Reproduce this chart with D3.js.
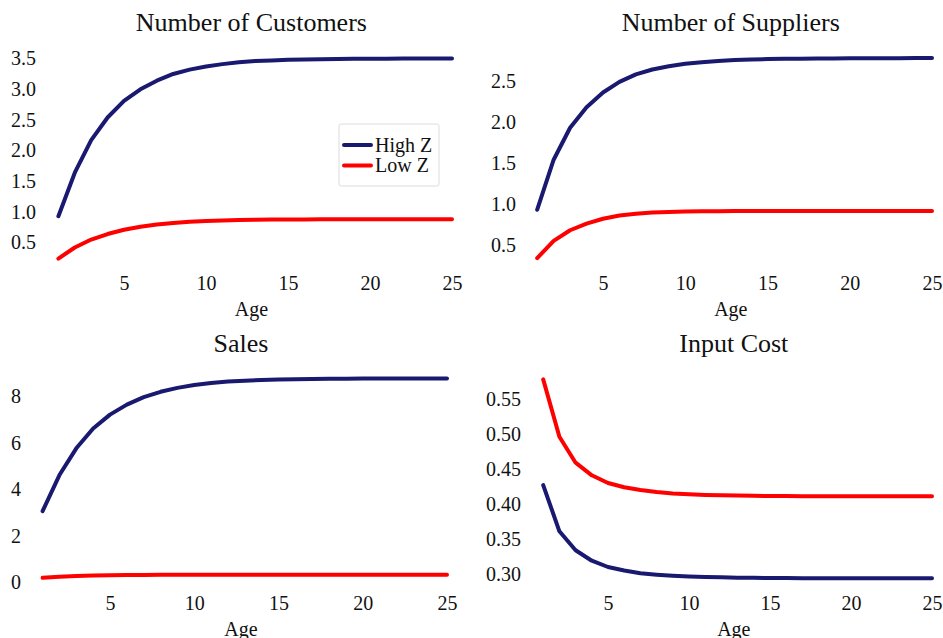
<!DOCTYPE html>
<html>
<head>
<meta charset="utf-8">
<script src="https://cdn.jsdelivr.net/npm/d3@7"></script>
<style>
  html, body { margin: 0; padding: 0; background: #fff; }
  svg { display: block; }
</style>
</head>
<body>
<svg id="chart" width="943" height="638"></svg>
<script>
// ---------------- DATA ----------------
const ages = [1,2,3,4,5,6,7,8,9,10,11,12,13,14,15,16,17,18,19,20,21,22,23,24,25];
const seriesNames = ["High Z", "Low Z"];
const titles = ["Number of Customers", "Number of Suppliers", "Sales", "Input Cost"];

const customersHigh = [0.92,1.63,2.16,2.53,2.80,2.99,3.13,3.24,3.31,3.36,3.40,3.43,3.45,3.46,3.47,3.475,3.48,3.484,3.486,3.488,3.489,3.49,3.49,3.49,3.49];
const customersLow  = [0.23,0.41,0.54,0.63,0.70,0.75,0.785,0.81,0.83,0.843,0.852,0.858,0.862,0.865,0.867,0.868,0.869,0.87,0.87,0.87,0.87,0.87,0.87,0.87,0.87];

const suppliersHigh = [0.93,1.54,1.93,2.18,2.36,2.49,2.58,2.64,2.68,2.71,2.73,2.745,2.755,2.762,2.767,2.77,2.772,2.774,2.775,2.776,2.777,2.778,2.778,2.779,2.78];
const suppliersLow  = [0.34,0.55,0.68,0.76,0.82,0.86,0.88,0.895,0.903,0.908,0.911,0.913,0.914,0.915,0.915,0.915,0.915,0.915,0.915,0.915,0.915,0.915,0.915,0.915,0.915];

const salesHigh = [3.05,4.6,5.75,6.6,7.2,7.63,7.95,8.18,8.35,8.47,8.56,8.62,8.66,8.69,8.71,8.725,8.735,8.74,8.745,8.748,8.75,8.75,8.75,8.75,8.75];
const salesLow  = [0.18,0.23,0.26,0.28,0.29,0.30,0.305,0.308,0.31,0.31,0.31,0.31,0.31,0.31,0.31,0.31,0.31,0.31,0.31,0.31,0.31,0.31,0.31,0.31,0.31];

const costHigh = [0.427,0.361,0.334,0.319,0.310,0.305,0.301,0.299,0.2975,0.2965,0.2958,0.2952,0.2948,0.2945,0.2943,0.2942,0.2941,0.294,0.294,0.294,0.294,0.294,0.294,0.294,0.294];
const costLow  = [0.578,0.496,0.459,0.441,0.430,0.424,0.420,0.417,0.415,0.414,0.413,0.4125,0.412,0.4117,0.4115,0.4113,0.4112,0.4111,0.411,0.411,0.411,0.411,0.411,0.411,0.411];

const xTicks = [5,10,15,20,25];
const customersTicks = [0.5,1.0,1.5,2.0,2.5,3.0,3.5];
const suppliersTicks = [0.5,1.0,1.5,2.0,2.5];
const salesTicks = [0,2,4,6,8];
const costTicks = [0.30,0.35,0.40,0.45,0.50,0.55];

// ---------------- LAYOUT ----------------
const colors = { high: "#191970", low: "#ff0000" };
const FONT = "'Liberation Serif', 'DejaVu Serif', serif";

const panels = [
  { title: titles[0], high: customersHigh, low: customersLow, yTicks: customersTicks, fmt: d3.format(".1f"),
    x5: 124, x25: 452, yA: 242, yB: 58, yLabelX: 36, xLabelY: 283, ageY: 309, titleY: 22, legend: true },
  { title: titles[1], high: suppliersHigh, low: suppliersLow, yTicks: suppliersTicks, fmt: d3.format(".1f"),
    x5: 603, x25: 932, yA: 245, yB: 81, yLabelX: 516, xLabelY: 283, ageY: 309, titleY: 22 },
  { title: titles[2], high: salesHigh, low: salesLow, yTicks: salesTicks, fmt: d3.format("d"),
    x5: 110, x25: 447, yA: 582, yB: 396, yLabelX: 21, xLabelY: 603, ageY: 629, titleY: 343 },
  { title: titles[3], high: costHigh, low: costLow, yTicks: costTicks, fmt: d3.format(".2f"),
    x5: 608, x25: 932, yA: 574, yB: 399, yLabelX: 521, xLabelY: 603, ageY: 629, titleY: 343 }
];

const svg = d3.select("#chart");

panels.forEach(p => {
  const x = d3.scaleLinear().domain([5, 25]).range([p.x5, p.x25]);
  const y = d3.scaleLinear().domain([p.yTicks[0], p.yTicks[p.yTicks.length - 1]]).range([p.yA, p.yB]);
  const g = svg.append("g");

  const line = d3.line().x((d, i) => x(ages[i])).y(d => y(d));
  [[p.high, colors.high], [p.low, colors.low]].forEach(([vals, c]) => {
    g.append("path")
      .datum(vals)
      .attr("d", line)
      .attr("fill", "none")
      .attr("stroke", c)
      .attr("stroke-width", 4)
      .attr("stroke-linecap", "round")
      .attr("stroke-linejoin", "round");
  });

  const xa = g.append("g")
    .attr("transform", `translate(0,${p.xLabelY})`)
    .call(d3.axisBottom(x).tickValues(xTicks).tickSize(0).tickPadding(0).tickFormat(d3.format("d")));
  xa.select(".domain").remove();
  xa.attr("font-family", FONT).attr("font-size", 20);
  xa.selectAll("text").attr("y", 0).attr("dy", "0.34em").attr("fill", "#111");

  const ya = g.append("g")
    .attr("transform", `translate(${p.yLabelX},0)`)
    .call(d3.axisLeft(y).tickValues(p.yTicks).tickSize(0).tickPadding(0).tickFormat(p.fmt));
  ya.select(".domain").remove();
  ya.attr("font-family", FONT).attr("font-size", 20);
  ya.selectAll("text").attr("x", 0).attr("dy", "0.34em").attr("fill", "#111");

  const centerX = x(13) - 3.8;

  g.append("text")
    .attr("x", centerX)
    .attr("y", p.ageY)
    .attr("dy", "0.34em")
    .attr("text-anchor", "middle")
    .attr("font-family", FONT)
    .attr("font-size", 20)
    .attr("fill", "#111")
    .text("Age");

  g.append("text")
    .attr("x", centerX)
    .attr("y", p.titleY)
    .attr("dy", "0.34em")
    .attr("text-anchor", "middle")
    .attr("font-family", FONT)
    .attr("font-size", 26)
    .attr("fill", "#111")
    .text(p.title);

  if (p.legend) {
    const lg = svg.append("g").attr("transform", "translate(339,124)");
    lg.append("rect")
      .attr("x", 0).attr("y", 0).attr("width", 100).attr("height", 62)
      .attr("rx", 2)
      .attr("fill", "#fff")
      .attr("stroke", "#dcdcdc")
      .attr("stroke-width", 1);
    seriesNames.forEach((name, i) => {
      const yy = 21 + i * 20.5;
      lg.append("line")
        .attr("x1", 5).attr("x2", 32).attr("y1", yy).attr("y2", yy)
        .attr("stroke", i === 0 ? colors.high : colors.low)
        .attr("stroke-width", 4)
        .attr("stroke-linecap", "round");
      lg.append("text")
        .attr("x", 36).attr("y", yy)
        .attr("dy", "0.34em")
        .attr("font-family", FONT)
        .attr("font-size", 20)
        .attr("fill", "#111")
        .text(name);
    });
  }
});
</script>
</body>
</html>
